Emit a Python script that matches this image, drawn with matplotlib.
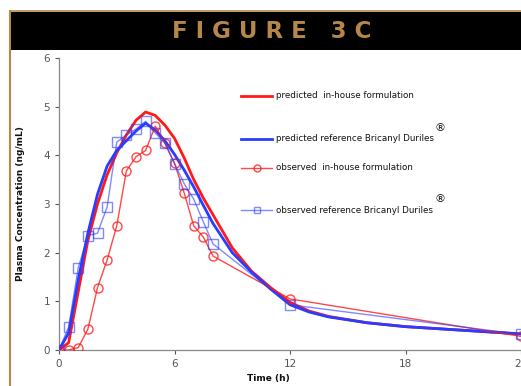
import matplotlib.pyplot as plt
from matplotlib.patches import Rectangle
from matplotlib.lines import Line2D

# predicted curves (smooth model output)
t_pred = [0, 0.5, 1, 1.5, 2, 2.5, 3, 3.5, 4, 4.5, 5, 5.5, 6, 6.5, 7, 7.5, 8, 9, 10, 11, 12, 13, 14, 16, 18, 20, 22, 24]
pred_inhouse = [0, 0.15, 1.2, 2.25, 3.0, 3.6, 4.05, 4.42, 4.72, 4.89, 4.82, 4.62, 4.35, 3.95, 3.5, 3.12, 2.78, 2.1, 1.62, 1.28, 0.98, 0.8, 0.69, 0.56, 0.48, 0.43, 0.38, 0.33]
pred_ref = [0, 0.35, 1.45, 2.4, 3.2, 3.78, 4.1, 4.3, 4.5, 4.66, 4.52, 4.3, 4.02, 3.7, 3.35, 2.97, 2.6, 2.0, 1.6, 1.25, 0.93, 0.78, 0.68, 0.56, 0.48, 0.43, 0.38, 0.33]

# observed data
t_obs = [0, 0.5, 1, 1.5, 2, 2.5, 3, 3.5, 4, 4.5, 5, 5.5, 6, 6.5, 7, 7.5, 8, 12, 24]
obs_inhouse = [0, 0.0, 0.05, 0.43, 1.28, 1.85, 2.55, 3.68, 3.97, 4.1, 4.6, 4.25, 3.84, 3.23, 2.55, 2.32, 1.93, 1.05, 0.28]
obs_ref = [0, 0.47, 1.69, 2.35, 2.4, 2.94, 4.27, 4.42, 4.54, 4.7, 4.46, 4.25, 3.83, 3.42, 3.1, 2.63, 2.18, 0.93, 0.32]

x_ticks = [0, 6, 12, 18, 24]
y_ticks = [0, 1, 2, 3, 4, 5, 6]

tan = "#b5874b"
red = "#ff1a1a"
blue = "#2a3cff"

fig = plt.figure(figsize=(5.21, 3.86), dpi=100)

# banner and border
fig.patches.append(Rectangle((10 / 521, 1 - 50 / 386), 511 / 521, 38 / 386,
                             transform=fig.transFigure, facecolor="black",
                             edgecolor="none", zorder=0))
fig.add_artist(Line2D([10 / 521, 10 / 521], [0, 1 - 11 / 386], color=tan, lw=1.5,
                      transform=fig.transFigure))
fig.add_artist(Line2D([10 / 521, 1], [1 - 11 / 386, 1 - 11 / 386], color=tan, lw=1.2,
                      transform=fig.transFigure))
fig.text(272 / 521, 1 - 31 / 386, "F I G U R E   3 C", color=tan, fontsize=16.5,
         fontweight="bold", ha="center", va="center", family="DejaVu Sans")

ax = fig.add_axes([59 / 521, 1 - 350 / 386, 462 / 521, 292 / 386])

ax.plot(t_pred, pred_inhouse, color=red, lw=2.0, zorder=3)
ax.plot(t_pred, pred_ref, color=blue, lw=2.0, zorder=3)
ax.plot(t_obs, obs_inhouse, color=red, lw=1.0, marker="o", ms=6.5, mfc="none",
        mec=red, alpha=0.8, zorder=4)
ax.plot(t_obs, obs_ref, color=blue, lw=1.0, marker="s", ms=6.5, mfc="none",
        mec=blue, alpha=0.6, zorder=4)

ax.set_xlim(0, 24)
ax.set_ylim(0, 6)
ax.set_xticks(x_ticks)
ax.set_yticks(y_ticks)
ax.tick_params(labelsize=7.5, colors="#555555", length=3, width=0.8)
for s in ["top", "right"]:
    ax.spines[s].set_visible(False)
for s in ["left", "bottom"]:
    ax.spines[s].set_color("#888888")
    ax.spines[s].set_linewidth(0.9)

fig.text(21 / 521, 1 - 204 / 386, "Plasma Concentration (ng/mL)", rotation=90,
         fontsize=6.5, fontweight="bold", ha="center", va="center", color="#111111")
fig.text(268 / 521, 1 - 378 / 386, "Time (h)", fontsize=6.5, fontweight="bold",
         ha="center", va="center", color="#111111")

# legend, drawn by hand
legend_rows = [
    ("predicted  in-house formulation", red, 2.0, None, 1.0, 96, False),
    ("predicted reference Bricanyl Duriles", blue, 2.0, None, 1.0, 139, True),
    ("observed  in-house formulation", red, 1.0, "o", 0.8, 168, False),
    ("observed reference Bricanyl Duriles", blue, 1.0, "s", 0.6, 210, True),
]
for label, c, lw, mk, a, ypx, reg in legend_rows:
    yf = 1 - ypx / 386
    fig.add_artist(Line2D([241 / 521, 272 / 521], [yf, yf], color=c, lw=lw,
                          transform=fig.transFigure, alpha=a))
    if mk:
        fig.add_artist(Line2D([256.5 / 521], [yf], marker=mk, ms=5, mfc="none",
                              mec=c, color=c, alpha=a, transform=fig.transFigure))
    txt = fig.text(276 / 521, yf, label, fontsize=6.3, va="center", ha="left",
                   color="#111111")
    if reg:
        fig.canvas.draw()
        bb = txt.get_window_extent()
        fig.text((bb.x1 + 1) / 521, yf + 11 / 386, "®", fontsize=8,
                 va="center", ha="left", color="#111111")

plt.savefig("out.png", dpi=100)
